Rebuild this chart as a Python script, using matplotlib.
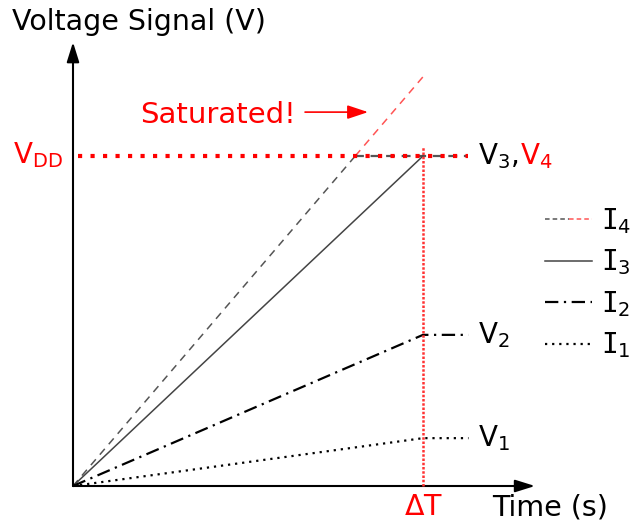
import matplotlib.pyplot as plt
from matplotlib.lines import Line2D
from matplotlib.legend_handler import HandlerTuple

# time axis in units of the integration time dT, voltage in units of VDD
dT = 1.0
t_end = 1.13
VDD = 1.0
V1 = 0.145
V2 = 0.458
V3 = 1.0
V4_ideal = 1.24      # where I4 would be without saturation
labels = ['I$_4$', 'I$_3$', 'I$_2$', 'I$_1$']

RED = '#ff0000'
GRAY = '#555555'
FS = 20.5


def main():
    fig = plt.figure(figsize=(6.3, 5.26), dpi=100)
    ax = fig.add_axes([0, 0, 1, 1])
    ax.set_xlim(-73 / 350, 557 / 350)
    ax.set_ylim(-40 / 330, 486 / 330)
    ax.axis('off')

    # axes with arrows
    ax.annotate('', xy=(1.32, 0), xytext=(0, 0),
                arrowprops=dict(arrowstyle='-|>,head_length=0.8,head_width=0.25',
                                mutation_scale=15, lw=1.5, color='black',
                                shrinkA=0, shrinkB=0))
    ax.annotate('', xy=(0, 1.345), xytext=(0, 0),
                arrowprops=dict(arrowstyle='-|>,head_length=0.8,head_width=0.25',
                                mutation_scale=15, lw=1.5, color='black',
                                shrinkA=0, shrinkB=0))

    # I4: rises past VDD, clipped at VDD
    t_sat = VDD / (V4_ideal / dT)
    ax.plot([0, t_sat], [0, VDD], color=GRAY, lw=1.1, ls=(0, (5, 4)))
    ax.plot([t_sat, dT], [VDD, V4_ideal], color='#ff5555', lw=1.1, ls=(0, (5, 4)))
    ax.plot([t_sat, t_end], [VDD, VDD], color=GRAY, lw=1.6, ls=(0, (4, 3)))

    # I3 solid
    ax.plot([0, dT], [0, V3], color='#444444', lw=1.1)

    # I2 dash-dot
    ax.plot([0, dT, t_end], [0, V2, V2], color='black', lw=1.6,
            ls=(0, (6, 2.5, 1, 2.5)))

    # I1 dotted
    ax.plot([0, dT, t_end], [0, V1, V1], color='black', lw=1.6,
            ls=(0, (1, 2.2)))

    # VDD level and integration time marker
    ax.plot([0.014, t_end], [VDD, VDD], color=RED, lw=3, ls=(0, (1, 2)), zorder=4)
    ax.plot([dT, dT], [0, 1.03], color='#ff3333', lw=1.8, ls=(0, (1, 0.7)), zorder=3)

    # text labels
    ax.text(-0.174, 1.382, 'Voltage Signal (V)', fontsize=FS, va='baseline')
    ax.text(-0.171, 0.979, r'V$_{\mathregular{DD}}$', fontsize=20,
            color=RED, va='baseline')
    ax.text(0.191, 1.10, 'Saturated!', fontsize=21, color=RED, va='baseline')
    ax.annotate('', xy=(0.843, 1.133), xytext=(0.663, 1.133),
                arrowprops=dict(arrowstyle='-|>,head_length=0.9,head_width=0.3',
                                mutation_scale=14, lw=1.2, color=RED,
                                shrinkA=0, shrinkB=0))
    ax.text(dT, -0.088, r'$\mathregular{\Delta}$T', fontsize=FS, color=RED,
            ha='center', va='baseline')
    ax.text(1.197, -0.088, 'Time (s)', fontsize=FS, va='baseline')

    xl = 1.157
    t3 = ax.text(xl, V3, r'V$_3$,', fontsize=20, va='center')
    ax.annotate(r'V$_4$', xy=(1, 0), xycoords=t3, xytext=(1, 0),
                textcoords='offset points', fontsize=20, color=RED,
                va='bottom', ha='left')
    ax.text(xl, V2, r'V$_2$', fontsize=20, va='center')
    ax.text(xl, V1, r'V$_1$', fontsize=20, va='center')

    # legend
    h4 = (Line2D([], [], color=GRAY, lw=1.1, ls=(0, (3, 2))),
          Line2D([], [], color='#ff5555', lw=1.1, ls=(0, (3, 2))))
    h3 = Line2D([], [], color='#444444', lw=1.1)
    h2 = Line2D([], [], color='black', lw=1.6, ls=(0, (6, 2.5, 1, 2.5)))
    h1 = Line2D([], [], color='black', lw=1.6, ls=(0, (1, 2.2)))
    ax.legend([h4, h3, h2, h1], labels,
              handler_map={tuple: HandlerTuple(ndivide=2, pad=0)},
              loc='upper left', bbox_to_anchor=(545 / 630, 1 - 206 / 526),
              bbox_transform=fig.transFigure, frameon=False,
              prop={'family': 'DejaVu Sans Mono', 'size': 20},
              borderpad=0, borderaxespad=0, handlelength=1.7,
              handletextpad=0.3, labelspacing=0.42)

    fig.savefig('out.png', dpi=100)


if __name__ == '__main__':
    main()
